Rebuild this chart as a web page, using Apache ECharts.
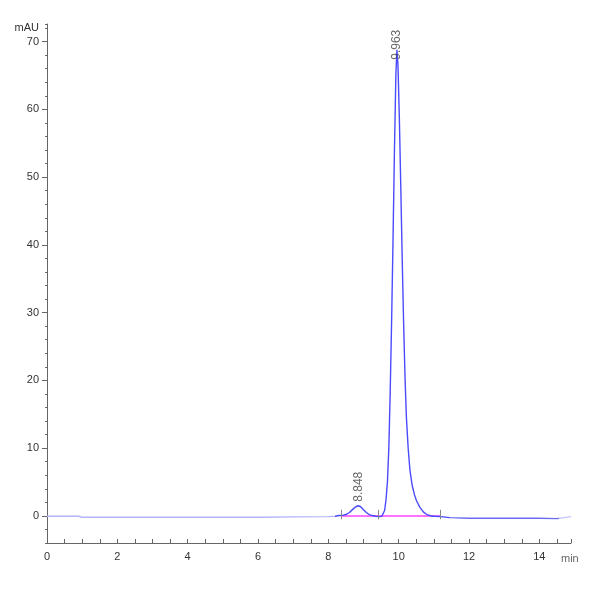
<!DOCTYPE html>
<html>
<head>
<meta charset="utf-8">
<script src="https://cdn.jsdelivr.net/npm/echarts@6/dist/echarts.min.js"></script>
<style>
  html, body { margin: 0; padding: 0; background: #fff; }
  #main { width: 600px; height: 600px; }
</style>
</head>
<body>
<div id="main"></div>
<script>
// chromatogram trace (time in min, signal in mAU)
var times = [0, 0.9, 1.0, 2.0, 3.0, 4.0, 4.85, 4.9, 4.95, 5.3, 5.35, 5.4, 5.95, 6.0, 6.05, 6.1, 6.15, 7.0, 8.0, 8.2, 8.3, 8.38,
  8.5, 8.6, 8.7, 8.78, 8.85, 8.92, 9.0, 9.08, 9.16, 9.25, 9.35, 9.45, 9.52,
  9.56, 9.6, 9.64, 9.68, 9.72, 9.76, 9.8, 9.84, 9.88, 9.92, 9.95, 9.98, 10.02, 10.06, 10.1, 10.14, 10.18, 10.22, 10.27,
  10.32, 10.38, 10.45, 10.51, 10.6, 10.7, 10.8, 10.9, 11.0, 11.2, 11.45, 11.5, 12.0, 13.0, 14.0, 14.5, 14.55, 14.9];
var signal = [-0.05, -0.05, -0.2, -0.2, -0.2, -0.2, -0.2, -0.4, -0.2, -0.2, -0.4, -0.2, -0.2, -0.4, -0.2, -0.4, -0.2, -0.15, -0.1, -0.05, 0.05, 0.05,
  0.2, 0.5, 1.0, 1.35, 1.5, 1.35, 0.9, 0.5, 0.2, 0.05, -0.05, -0.1, -0.05,
  0.1, 0.8, 2.4, 5.0, 10.0, 18.5, 29.0, 41.0, 54.0, 65.0, 68.8, 66.5, 58.5, 48.5, 38.0, 28.5, 20.5, 14.5, 10.0,
  6.8, 4.6, 3.1, 2.2, 1.3, 0.6, 0.2, 0.02, -0.05, -0.1, -0.25, -0.35, -0.35, -0.35, -0.35, -0.4, -0.2, -0.1];

// peak apexes and their retention time labels
var peakTimes = [8.85, 9.95];
var peakHeights = [1.5, 68.8];
var peakLabels = ['8.848', '9.963'];

// integration baseline (drop points)
var baseTimes = [8.38, 9.43, 11.18];
var baseValues = [0, 0, 0];

var yMajorTicks = [0, 10, 20, 30, 40, 50, 60, 70];

var font = "'Liberation Sans Narrow', 'Liberation Sans', sans-serif";

var trace = times.map(function (t, i) { return [t, signal[i]]; });
var baseline = baseTimes.map(function (t, i) { return [t, baseValues[i]]; });
var peaks = peakTimes.map(function (t, i) {
  return {
    value: [t, peakHeights[i], peakLabels[i]],
    label: { distance: i === 1 ? -10 : 4 }
  };
});
var dropMarks = baseTimes.map(function (t) {
  return [{ coord: [t, -0.5] }, { coord: [t, 0.9] }];
});

var chart = echarts.init(document.getElementById('main'));
chart.setOption({
  animation: false,
  grid: { left: 47, right: 29, top: 24, bottom: 57 },
  xAxis: {
    type: 'value',
    min: 0,
    max: 14.9,
    interval: 0.5,
    name: 'min',
    nameLocation: 'end',
    nameGap: -10,
    nameTextStyle: { color: '#666', fontFamily: font, fontSize: 11, verticalAlign: 'top', align: 'left', padding: [10, 0, 0, 0] },
    axisLine: { onZero: false, lineStyle: { color: '#666' } },
    axisTick: { inside: true, length: 4, lineStyle: { color: '#666' } },
    axisLabel: {
      color: '#333',
      fontFamily: font,
      fontSize: 11,
      margin: 8,
      formatter: function (v) { return v % 2 === 0 ? String(v) : ''; }
    },
    splitLine: { show: false }
  },
  yAxis: [
    {
      type: 'value',
      min: -4,
      max: 72.6,
      interval: 2,
      name: 'mAU',
      nameLocation: 'end',
      nameGap: -9,
      nameTextStyle: { color: '#333', fontFamily: font, fontSize: 11, align: 'right', padding: [0, 8, 0, 0] },
      axisLine: { show: true, lineStyle: { color: '#666' } },
      axisTick: { show: true, length: 2, lineStyle: { color: '#666' } },
      axisLabel: { show: false },
      splitLine: { show: false }
    },
    {
      type: 'value',
      min: -4,
      max: 72.6,
      position: 'left',
      axisLine: { show: false },
      axisTick: { show: true, length: 5, customValues: yMajorTicks, lineStyle: { color: '#666' } },
      axisLabel: { color: '#333', fontFamily: font, fontSize: 11, margin: 8, customValues: yMajorTicks },
      splitLine: { show: false }
    }
  ],
  visualMap: {
    type: 'piecewise',
    show: false,
    seriesIndex: 0,
    dimension: 0,
    pieces: [
      { lt: 8.2, color: '#b4b4fb' },
      { gte: 8.2, lt: 11.45, color: '#4a4aff' },
      { gte: 11.45, lt: 14.55, color: '#6c6cf0' },
      { gte: 14.55, color: '#c4c4fb' }
    ]
  },
  series: [
    {
      name: 'signal',
      type: 'line',
      data: trace,
      showSymbol: false,
      symbol: 'none',
      lineStyle: { width: 1.4 },
      z: 3
    },
    {
      name: 'baseline',
      type: 'line',
      data: baseline,
      symbol: 'none',
      lineStyle: { color: '#ff44ff', width: 1.5 },
      z: 2,
      markLine: {
        silent: true,
        symbol: 'none',
        label: { show: false },
        lineStyle: { color: '#888', width: 1, type: 'solid' },
        data: dropMarks
      }
    },
    {
      name: 'peaks',
      type: 'scatter',
      data: peaks,
      symbolSize: 0,
      z: 4,
      label: {
        show: true,
        position: 'top',
        rotate: 90,
        align: 'left',
        verticalAlign: 'middle',
        color: '#444',
        fontFamily: "'Liberation Sans', sans-serif",
        fontSize: 12,
        formatter: function (p) { return p.value[2]; }
      }
    }
  ]
});
</script>
</body>
</html>
